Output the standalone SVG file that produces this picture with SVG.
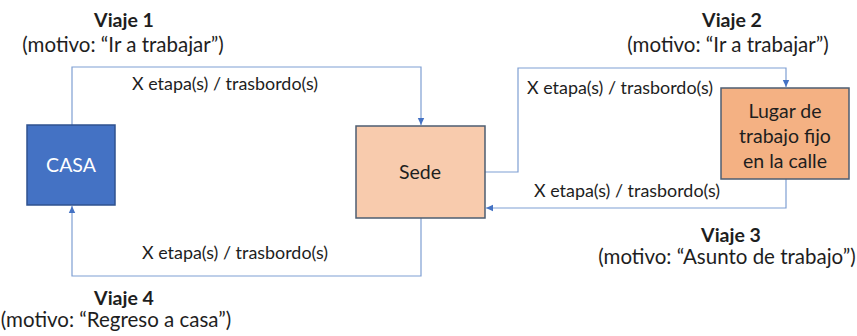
<svg xmlns="http://www.w3.org/2000/svg" width="857" height="336" viewBox="0 0 857 336">
<style>
text{font-family:Lato,"Open Sans","Liberation Sans",sans-serif;fill:#1e1e1e}
.t{font-size:19.5px;font-weight:bold;text-anchor:middle}
.s{font-size:20.5px;text-anchor:middle}
.l{font-size:17.9px}
.n{font-size:19.5px;text-anchor:middle}
.c{fill:none;stroke:#7f9fd3;stroke-width:1.2}
</style>
<defs>
<marker id="ah" markerWidth="8" markerHeight="8" refX="7" refY="4" orient="auto" markerUnits="userSpaceOnUse">
<path d="M0,0.8 L7,4 L0,7.2 Z" fill="#4472c4"/>
</marker>
</defs>
<rect width="857" height="336" fill="#fff"/>
<g id="connectors">
<path class="c" d="M72,125 V67 H421 V125" marker-end="url(#ah)"/>
<path class="c" d="M485,172 H518 V68 H786 V87" marker-end="url(#ah)"/>
<path class="c" d="M786,179 V208 H486" marker-end="url(#ah)"/>
<path class="c" d="M421,218 V276 H72 V206" marker-end="url(#ah)"/>
</g>
<g id="casa">
<rect x="27" y="125" width="88" height="80" fill="#4472c4" stroke="#2f528f" stroke-width="1.5"/>
<text class="n" x="71" y="172" style="fill:#fff">CASA</text>
</g>
<g id="sede">
<rect x="356" y="126" width="129" height="92" fill="#f8cbad" stroke="#4d5e72" stroke-width="1.5"/>
<text class="n" x="420" y="179">Sede</text>
</g>
<g id="lugar">
<rect x="721" y="88" width="128" height="91" fill="#f4b183" stroke="#4d5e72" stroke-width="1.5"/>
<text class="n" x="785" y="118">Lugar de</text>
<text class="n" x="785" y="143">trabajo fijo</text>
<text class="n" x="785" y="168">en la calle</text>
</g>
<g id="labels">
<text class="l" x="132" y="90">X etapa(s) / trasbordo(s)</text>
<text class="l" x="527" y="94">X etapa(s) / trasbordo(s)</text>
<text class="l" x="534" y="197">X etapa(s) / trasbordo(s)</text>
<text class="l" x="142" y="259">X etapa(s) / trasbordo(s)</text>
</g>
<g id="titles">
<text class="t" x="124" y="27">Viaje 1</text>
<text class="s" x="123" y="52">(motivo: “Ir a trabajar”)</text>
<text class="t" x="732" y="27">Viaje 2</text>
<text class="s" x="728" y="52">(motivo: “Ir a trabajar”)</text>
<text class="t" x="731" y="242">Viaje 3</text>
<text class="s" x="727" y="264">(motivo: “Asunto de trabajo”)</text>
<text class="t" x="124" y="305">Viaje 4</text>
<text class="s" x="116" y="327">(motivo: “Regreso a casa”)</text>
</g>
</svg>
